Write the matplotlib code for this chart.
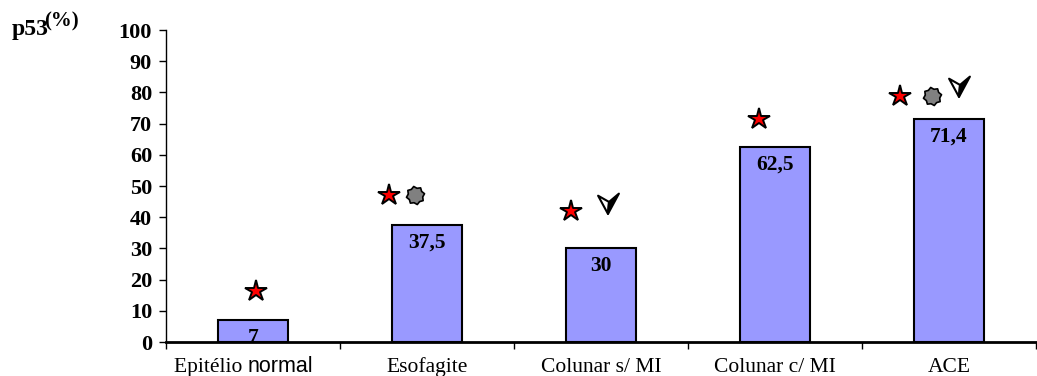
import matplotlib
matplotlib.use("Agg")
import matplotlib.pyplot as plt
from matplotlib.path import Path
import numpy as np

categories = ["Epitélio normal", "Esofagite", "Colunar s/ MI", "Colunar c/ MI", "ACE"]
values = [7, 37.5, 30, 62.5, 71.4]
value_labels = ["7", "37,5", "30", "62,5", "71,4"]
# significance markers: (category index, offset, height)
star_marks = [(0, 0.02, 16.5), (1, -0.22, 47), (2, -0.17, 42), (3, -0.09, 71.5), (4, -0.28, 79)]
gear_marks = [(1, -0.07, 47), (4, -0.10, 79)]
arrow_marks = [(2, 0.04, 44.5), (4, 0.06, 82)]
yticks = list(range(0, 101, 10))

fig = plt.figure(figsize=(10.37, 3.76), dpi=100)
W, H = 1037, 376
ax = fig.add_axes([166 / W, 1 - 342 / H, (1036 - 166) / W, (342 - 30) / H])

x = np.arange(len(categories))
ax.bar(x, values, width=0.4, color="#9999FF", edgecolor="black", linewidth=1.5, zorder=2)
for xi, v, lab in zip(x, values, value_labels):
    ax.annotate(lab, (xi, v), xytext=(0, -5.5), textcoords="offset points", ha="center", va="top",
                fontsize=15.5, fontweight="bold", family="Liberation Serif", zorder=3,
                annotation_clip=False)

# gear (octagon-like) marker
n = 16
ang = np.linspace(0, 2 * np.pi, n, endpoint=False) + np.pi / 16
r = np.where(np.arange(n) % 2 == 0, 1.0, 0.8)
pts = np.column_stack([r * np.cos(ang), r * np.sin(ang)])
gear = Path(np.vstack([pts, pts[:1]]), [Path.MOVETO] + [Path.LINETO] * (n - 1) + [Path.CLOSEPOLY])

# arrow marker: left white half and right black half
L, R, N, T = (-1.0, 0.75), (1.0, 0.95), (0.05, 0.15), (-0.05, -1.0)
left_half = Path([L, N, T, L], [Path.MOVETO, Path.LINETO, Path.LINETO, Path.CLOSEPOLY])
right_half = Path([N, R, T, N], [Path.MOVETO, Path.LINETO, Path.LINETO, Path.CLOSEPOLY])

for i, off, h in star_marks:
    ax.plot(i + off, h, marker="*", markersize=16, markerfacecolor="red", markeredgecolor="black",
            markeredgewidth=1.4, zorder=4, clip_on=False)
for i, off, h in gear_marks:
    ax.plot(i + off, h, marker=gear, markersize=13, markerfacecolor="#808080", markeredgecolor="black",
            markeredgewidth=1.2, zorder=4, clip_on=False)
for i, off, h in arrow_marks:
    ax.plot(i + off, h, marker=left_half, markersize=15, markerfacecolor="white", markeredgecolor="black",
            markeredgewidth=1.5, zorder=4, clip_on=False)
    ax.plot(i + off, h, marker=right_half, markersize=15, markerfacecolor="black", markeredgecolor="black",
            markeredgewidth=1.5, zorder=4, clip_on=False)

ax.set_xlim(-0.5, len(categories) - 0.5)
ax.set_ylim(0, 100)
ax.set_yticks(yticks)
ax.set_yticklabels([str(t) for t in yticks], fontsize=16, fontweight="bold", family="Liberation Serif")
ax.set_xticks(np.arange(-0.5, len(categories)))
ax.set_xticklabels([])
ax.tick_params(axis="x", length=5, width=1, direction="out")
cat_fs = 15.5
for xi, cat in zip(x, categories):
    if cat == "Epitélio normal":
        ax.annotate("Epitélio ", (xi, 0), xytext=(-4, -21.5), textcoords="offset points",
                    ha="right", va="baseline", fontsize=cat_fs, family="Liberation Serif",
                    annotation_clip=False)
        ax.annotate("normal", (xi, 0), xytext=(-4, -21.5), textcoords="offset points",
                    ha="left", va="baseline", fontsize=cat_fs, family="Liberation Sans",
                    annotation_clip=False)
    else:
        ax.annotate(cat, (xi, 0), xytext=(0, -21.5), textcoords="offset points",
                    ha="center", va="baseline", fontsize=cat_fs, family="Liberation Serif",
                    annotation_clip=False)
ax.tick_params(axis="y", length=5, width=1, direction="out", pad=5)
ax.spines["top"].set_visible(False)
ax.spines["right"].set_visible(False)
ax.spines["left"].set_linewidth(1.0)
ax.spines["bottom"].set_linewidth(2.0)

fig.text(12 / W, 1 - 35 / H, "p53", fontsize=17, fontweight="bold", family="Liberation Serif", va="baseline")
fig.text(44 / W, 1 - 26 / H, "(%)", fontsize=15, fontweight="bold", family="Liberation Serif", va="baseline")

fig.savefig("out.png", dpi=100)
